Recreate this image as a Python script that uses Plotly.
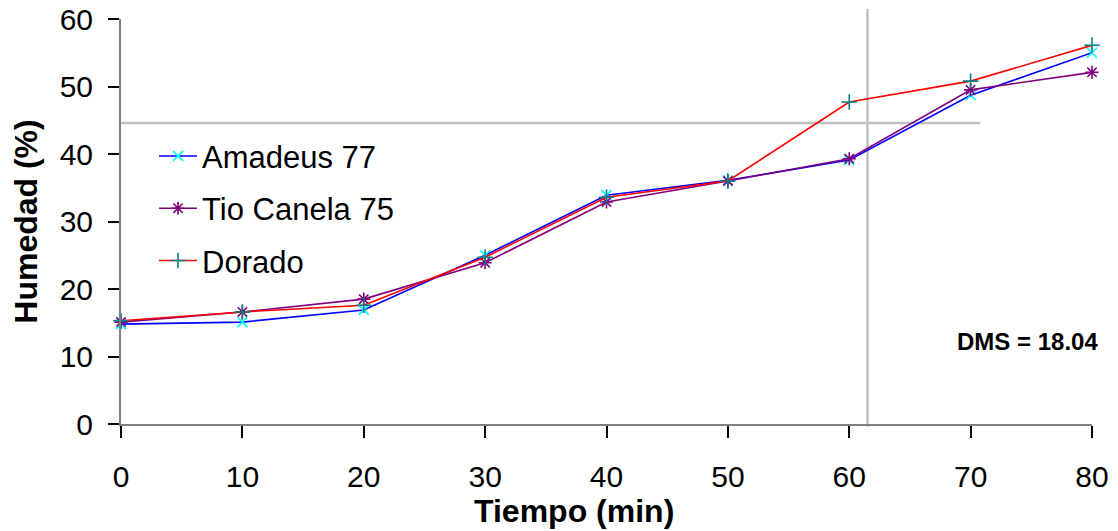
import plotly.graph_objects as go

# Drying time (min) and moisture content (%) per variety
tiempo = [0, 10, 20, 30, 40, 50, 60, 70, 80]
amadeus_77 = [14.8, 15.1, 16.9, 25.0, 33.9, 36.1, 39.1, 48.7, 55.0]
tio_canela_75 = [15.1, 16.6, 18.5, 23.9, 32.9, 36.0, 39.3, 49.5, 52.1]
dorado = [15.3, 16.6, 17.6, 24.7, 33.6, 36.0, 47.7, 50.8, 56.1]

x_ticks = [0, 10, 20, 30, 40, 50, 60, 70, 80]
y_ticks = [0, 10, 20, 30, 40, 50, 60]

# Reference cross lines (DMS)
dms_label = "DMS = 18.04"
dms_x = 61.5
dms_h_y = 44.6
dms_h_x_end = 70.8

FONT = "Liberation Sans, Arial, sans-serif"

series = [
    ("Amadeus 77", amadeus_77, "#0000FF", "#00FFFF", "x-thin", 10),
    ("Tio Canela 75", tio_canela_75, "#800080", "#800080", "asterisk", 11),
    ("Dorado", dorado, "#FF0000", "#008080", "cross-thin", 11),
]

fig = go.Figure()
for name, vals, lcol, mcol, sym, msize in series:
    fig.add_trace(go.Scatter(
        x=tiempo, y=vals, name=name, mode="lines+markers",
        legendgroup=name,
        line=dict(color=lcol, width=1.6),
        marker=dict(symbol=sym, size=msize, color=mcol,
                    line=dict(color=mcol, width=1.6)),
        cliponaxis=False,
    ))

# grey DMS cross
fig.add_shape(type="line", xref="x", yref="paper",
              x0=dms_x, x1=dms_x, y0=-0.007, y1=1.025,
              line=dict(color="#C0C0C0", width=2.5), layer="below")
fig.add_shape(type="line", xref="x", yref="y",
              x0=0, x1=dms_h_x_end, y0=dms_h_y, y1=dms_h_y,
              line=dict(color="#C0C0C0", width=2.5), layer="below")

fig.add_annotation(x=1.008, y=0.2025, xref="paper", yref="paper",
                   text="<b>" + dms_label + "</b>", showarrow=False,
                   xanchor="right", yanchor="middle",
                   font=dict(family=FONT, size=24, color="black"))

# x-axis title
fig.add_annotation(x=0.467, y=-0.214, xref="paper", yref="paper",
                   text="<b>Tiempo (min)</b>", showarrow=False,
                   xanchor="center", yanchor="middle",
                   font=dict(family=FONT, size=32, color="black"))

fig.update_layout(
    width=1118, height=531,
    margin=dict(l=121, r=26, t=19, b=107),
    paper_bgcolor="white", plot_bgcolor="white",
    font=dict(family=FONT, color="black"),
    showlegend=True,
    legend=dict(x=0.034, y=0.7277, xanchor="left", yanchor="top",
                font=dict(family=FONT, size=31, color="black"),
                bgcolor="rgba(0,0,0,0)", tracegroupgap=9,
                traceorder="grouped", itemwidth=38),
    xaxis=dict(range=[0, 80], tickvals=x_ticks, ticktext=[str(v) for v in x_ticks],
               showgrid=False, zeroline=False, automargin=False,
               showline=True, linecolor="#808080", linewidth=2,
               ticks="outside", ticklen=12, tickwidth=1.5, tickcolor="black",
               ticklabelstandoff=13,
               tickfont=dict(family=FONT, size=30, color="black")),
    yaxis=dict(range=[0, 60], tickvals=y_ticks, ticktext=[str(v) for v in y_ticks],
               showgrid=False, zeroline=False, automargin=False,
               showline=True, linecolor="#808080", linewidth=2,
               ticks="outside", ticklen=11, tickwidth=1.5, tickcolor="black",
               ticklabelstandoff=9,
               tickfont=dict(family=FONT, size=30, color="black"),
               title=dict(text="<b>Humedad (%)</b>", standoff=12,
                          font=dict(family=FONT, size=32, color="black"))),
)

fig.write_html("out.html")
